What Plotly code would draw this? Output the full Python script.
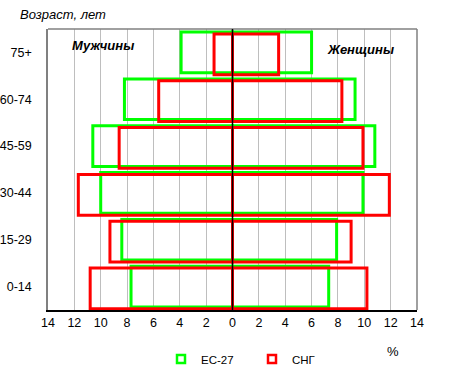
import plotly.graph_objects as go

ages = ["0-14", "15-29", "30-44", "45-59", "60-74", "75+"]
eu_men = [7.7, 8.4, 10.0, 10.6, 8.2, 3.9]
eu_women = [7.3, 7.9, 9.9, 10.8, 9.3, 6.0]
cis_men = [10.8, 9.3, 11.7, 8.6, 5.6, 1.4]
cis_women = [10.2, 9.0, 11.9, 9.9, 8.3, 3.5]
tick_vals = [-14, -12, -10, -8, -6, -4, -2, 0, 2, 4, 6, 8, 10, 12, 14]
tick_text = [str(abs(v)) for v in tick_vals]

GREEN = "#00FF00"
RED = "#FF0000"
W = 0.87

fig = go.Figure()

def add(vals, color, name, off):
    fig.add_trace(go.Bar(
        y=ages, x=vals, orientation="h", name=name, showlegend=False,
        legendgroup=name, width=W, offset=off,
        marker=dict(color="rgba(0,0,0,0)", line=dict(color=color, width=3)),
        hoverinfo="x+y",
    ))

add([-v for v in eu_men], GREEN, "ЕС-27", -W / 2)
add(eu_women, GREEN, "ЕС-27", -W / 2)
add([-v for v in cis_men], RED, "СНГ", -W / 2 - 0.04)
add(cis_women, RED, "СНГ", -W / 2 - 0.04)

for name, color in [("ЕС-27", GREEN), ("СНГ", RED)]:
    fig.add_trace(go.Scatter(
        x=[None], y=[None], mode="markers", name=name, legendgroup=name,
        marker=dict(symbol="square-open", size=8, color=color,
                    line=dict(color=color, width=2.5)),
    ))

fig.update_layout(
    width=450, height=380,
    margin=dict(l=48, r=33, t=29, b=70, autoexpand=False),
    barmode="overlay",
    plot_bgcolor="white", paper_bgcolor="white",
    font=dict(family="Liberation Sans, Arial, sans-serif", size=12, color="black"),
    xaxis=dict(range=[-14, 14], tickvals=tick_vals, ticktext=tick_text,
               showgrid=True, gridcolor="#BEBEBE", gridwidth=1,
               zeroline=False,
               showline=True, linecolor="black", linewidth=1.5, mirror=False,
               ticks="", tickfont=dict(size=12.5), fixedrange=True,
               automargin=False),
    yaxis=dict(categoryorder="array", categoryarray=ages, range=[-0.5, 5.5],
               showgrid=False, zeroline=False, showline=True, linecolor="#808080",
               linewidth=1.5, ticks="", ticklabelstandoff=12,
               tickfont=dict(size=12.5), fixedrange=True, automargin=False),
    legend=dict(orientation="h", x=(181 - 20 - 48) / 369, y=-49 / 281,
                xanchor="left", yanchor="middle",
                entrywidth=46, font=dict(size=11.5), itemwidth=30,
                bgcolor="rgba(0,0,0,0)"),
    shapes=[
        dict(type="line", xref="paper", yref="paper", x0=0, x1=1, y0=1, y1=1,
             line=dict(color="#808080", width=1.5)),
        dict(type="line", xref="paper", yref="paper", x0=1, x1=1, y0=0, y1=1,
             line=dict(color="#808080", width=1.5)),
        dict(type="line", xref="x", yref="paper", x0=0, x1=0, y0=0, y1=1,
             line=dict(color="black", width=1.5), layer="above"),
    ],
    annotations=[
        dict(text="<i>Возраст, лет</i>", xref="paper", yref="paper",
             x=-30/369, y=1 + 14/281, xanchor="left", yanchor="middle",
             showarrow=False, font=dict(size=13)),
        dict(text="<b><i>Мужчины</i></b>", xref="x", yref="paper",
             x=-9.8, y=1 - 16/281, xanchor="center", yanchor="middle",
             showarrow=False, font=dict(size=13)),
        dict(text="<b><i>Женщины</i></b>", xref="x", yref="paper",
             x=9.7, y=1 - 20/281, xanchor="center", yanchor="middle",
             showarrow=False, font=dict(size=13)),
        dict(text="%", xref="x", yref="paper",
             x=12.2, y=-41/281, xanchor="center", yanchor="middle",
             showarrow=False, font=dict(size=13)),
    ],
)

fig.write_html("out.html", config={"displayModeBar": False},
               post_script="document.body.style.margin='0px';")
